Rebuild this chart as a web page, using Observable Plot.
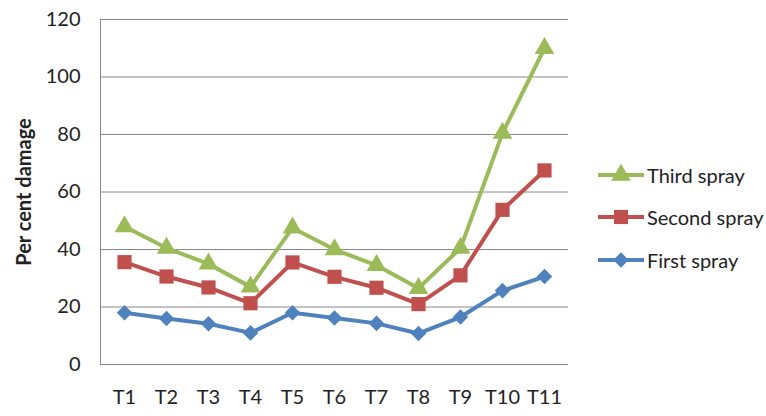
<!DOCTYPE html>
<html>
<head>
<meta charset="utf-8">
<script src="https://cdn.jsdelivr.net/npm/d3@7"></script>
<script src="https://cdn.jsdelivr.net/npm/@observablehq/plot@0.6"></script>
<style>
  html, body { margin: 0; padding: 0; background: #fff; }
  #wrap { position: relative; width: 766px; height: 416px; }
  g[aria-label="y-axis label"] text { font-weight: bold; font-size: 20px; }
  .legend { position: absolute; left: 598px; top: 0; font-family: Lato, "Open Sans", sans-serif; font-size: 20px; color: #222; }
  .legend .row { position: absolute; left: 0; display: flex; align-items: center; white-space: nowrap; }
  .legend svg { display: block; margin-right: 3px; }
</style>
</head>
<body>
<div id="wrap"></div>
<script>
const categories = ["T1","T2","T3","T4","T5","T6","T7","T8","T9","T10","T11"];
const seriesNames = ["First spray", "Second spray", "Third spray"];
const firstSpray  = [18, 16, 14.2, 11, 18, 16.2, 14.3, 10.8, 16.5, 25.7, 30.6];
const secondSpray = [35.6, 30.6, 26.8, 21.3, 35.5, 30.5, 26.7, 21, 31, 53.8, 67.5];
const thirdSpray  = [48, 40.5, 35, 27, 47.5, 40, 34.5, 26.5, 40.5, 80.5, 110];
const colors = ["#4F81BD", "#C0504D", "#9BBB59"];
const symbols = ["diamond2", "square", "triangle"];
const radii = [7, 8, 7.3];
const yTicks = [0, 20, 40, 60, 80, 100, 120];

const valuesBySeries = [firstSpray, secondSpray, thirdSpray];
const data = [];
seriesNames.forEach((s, i) => categories.forEach((c, j) => data.push({series: s, t: c, v: valuesBySeries[i][j]})));

const markFor = (s, i) => {
  const d = data.filter(r => r.series === s);
  return [
    Plot.line(d, {x: "t", y: "v", stroke: colors[i], strokeWidth: 4, strokeLinejoin: "round"}),
    Plot.dot(d, {x: "t", y: "v", fill: colors[i], stroke: "none", symbol: symbols[i], r: radii[i]})
  ];
};

const chart = Plot.plot({
  width: 766,
  height: 416,
  marginLeft: 100,
  marginRight: 198,
  marginTop: 19,
  marginBottom: 52,
  style: {fontFamily: "Lato, 'Open Sans', sans-serif", fontSize: "20px", color: "#222", background: "#fff"},
  x: {type: "point", domain: categories, padding: 0.5},
  y: {domain: [0, 120]},
  marks: [
    Plot.gridY(yTicks, {stroke: "#888", strokeOpacity: 1, strokeWidth: 1}),
    Plot.frame({anchor: "left", stroke: "#888"}),
    Plot.axisY(yTicks, {tickSize: 0, tickPadding: 20, label: "Per cent damage", labelAnchor: "center", labelOffset: 84, labelArrow: "none"}),
    Plot.axisX({tickSize: 0, tickPadding: 25, label: null}),
    ...seriesNames.flatMap((s, i) => markFor(s, i))
  ]
});

const wrap = document.getElementById("wrap");
wrap.appendChild(chart);

// Legend (top-to-bottom: third, second, first)
const legend = document.createElement("div");
legend.className = "legend";
const order = [2, 1, 0];
const rowTops = [163, 205, 248];
const symMap = {diamond2: d3.symbolDiamond2, square: d3.symbolSquare, triangle: d3.symbolTriangle};
order.forEach((i, k) => {
  const row = document.createElement("div");
  row.className = "row";
  row.style.top = rowTops[k] + "px";
  const svg = d3.create("svg").attr("width", 46).attr("height", 24);
  svg.append("line").attr("x1", 0).attr("x2", 46).attr("y1", 12).attr("y2", 12).attr("stroke", colors[i]).attr("stroke-width", 4);
  const r = radii[i];
  svg.append("path").attr("transform", "translate(23,12)").attr("d", d3.symbol(symMap[symbols[i]], Math.PI * r * r)()).attr("fill", colors[i]);
  row.appendChild(svg.node());
  const span = document.createElement("span");
  span.textContent = seriesNames[i];
  row.appendChild(span);
  legend.appendChild(row);
});
wrap.appendChild(legend);
</script>
</body>
</html>
